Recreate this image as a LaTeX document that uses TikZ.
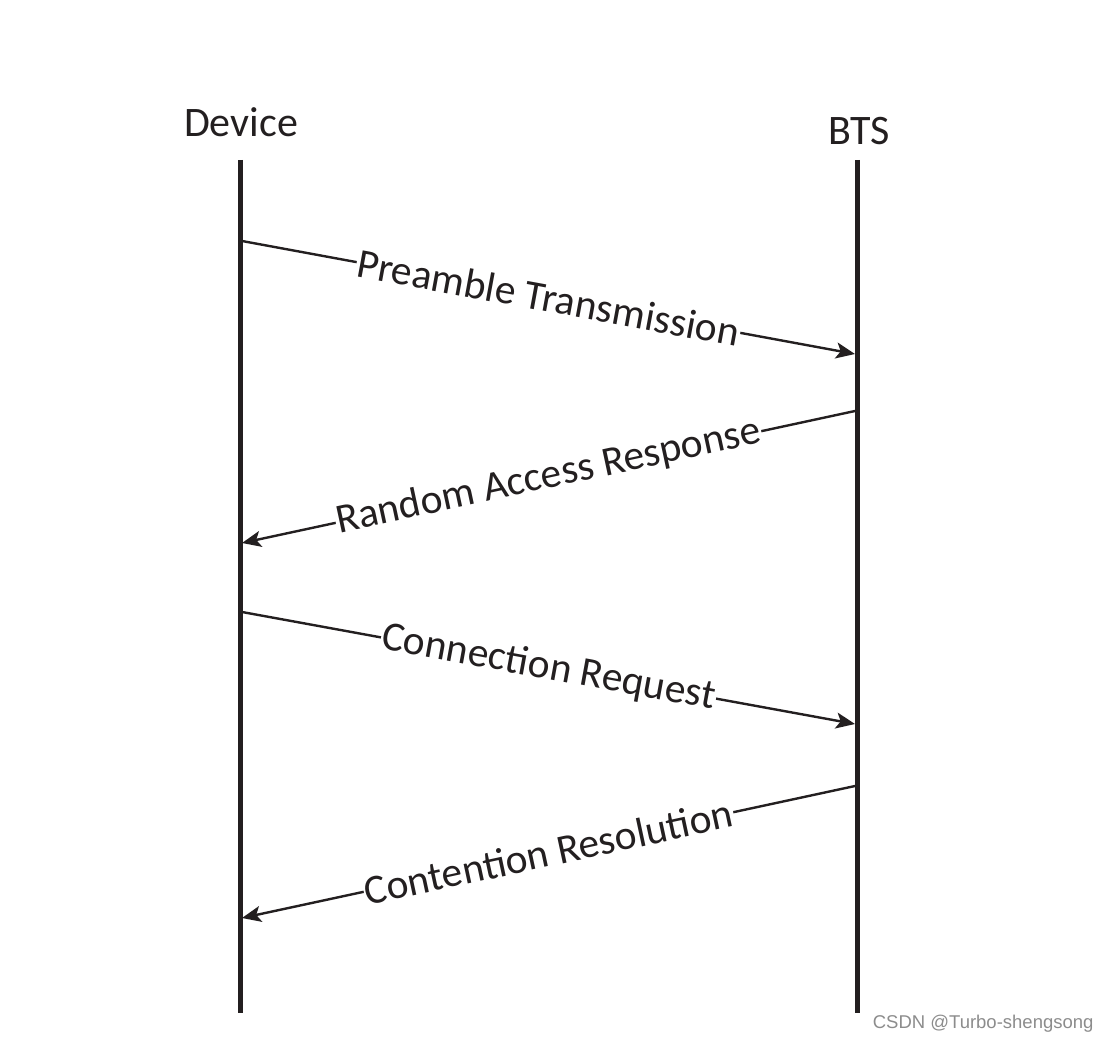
\documentclass[tikz,border=0pt]{standalone}
\usepackage{fontspec}
\setmainfont{Carlito}
\newfontfamily\wmfont{Liberation Sans}
\usetikzlibrary{arrows.meta}
\definecolor{ink}{HTML}{231F20}
\begin{document}
\begin{tikzpicture}[x=1pt,y=-1pt,
  lifeline/.style={line width=5pt,ink},
  msg/.style={line width=2.4pt,ink,-{Stealth[length=19pt,width=16pt,inset=4.5pt]}},
  msglabel/.style={sloped,fill=white,inner sep=1pt,font=\fontsize{41.5}{46}\selectfont,text=ink},
  head/.style={font=\fontsize{42}{46}\selectfont,text=ink,anchor=base}]
\useasboundingbox (0,0) rectangle (1111,1043);
\node[head] (dev) at (241,137) {Device};
\node[head] (bts) at (859,145) {BTS};
\coordinate (dtop) at (240,160);
\coordinate (dbot) at (240,1013);
\coordinate (btop) at (857,160);
\coordinate (bbot) at (857,1013);
\draw[lifeline] (dtop) -- (dbot);
\draw[lifeline] (btop) -- (bbot);
\coordinate (d1) at (242,241);
\coordinate (b1) at (855,354);
\coordinate (b2) at (855,411);
\coordinate (d2) at (242,543);
\coordinate (d3) at (242,612);
\coordinate (b3) at (855,724);
\coordinate (b4) at (855,786);
\coordinate (d4) at (242,918);
\draw[msg] (d1) -- node[msglabel] (l1) {Preamble Transmission} (b1);
\draw[msg] (b2) -- node[msglabel] (l2) {Random Access Response} (d2);
\draw[msg] (d3) -- node[msglabel] (l3) {Connection Request} (b3);
\draw[msg] (b4) -- node[msglabel] (l4) {Contention Resolution} (d4);
\node[font=\wmfont\fontsize{18.5}{22}\selectfont,text=black!45,anchor=east] (wm) at (1097,1024) {CSDN @Turbo-shengsong};
\end{tikzpicture}
\end{document}
